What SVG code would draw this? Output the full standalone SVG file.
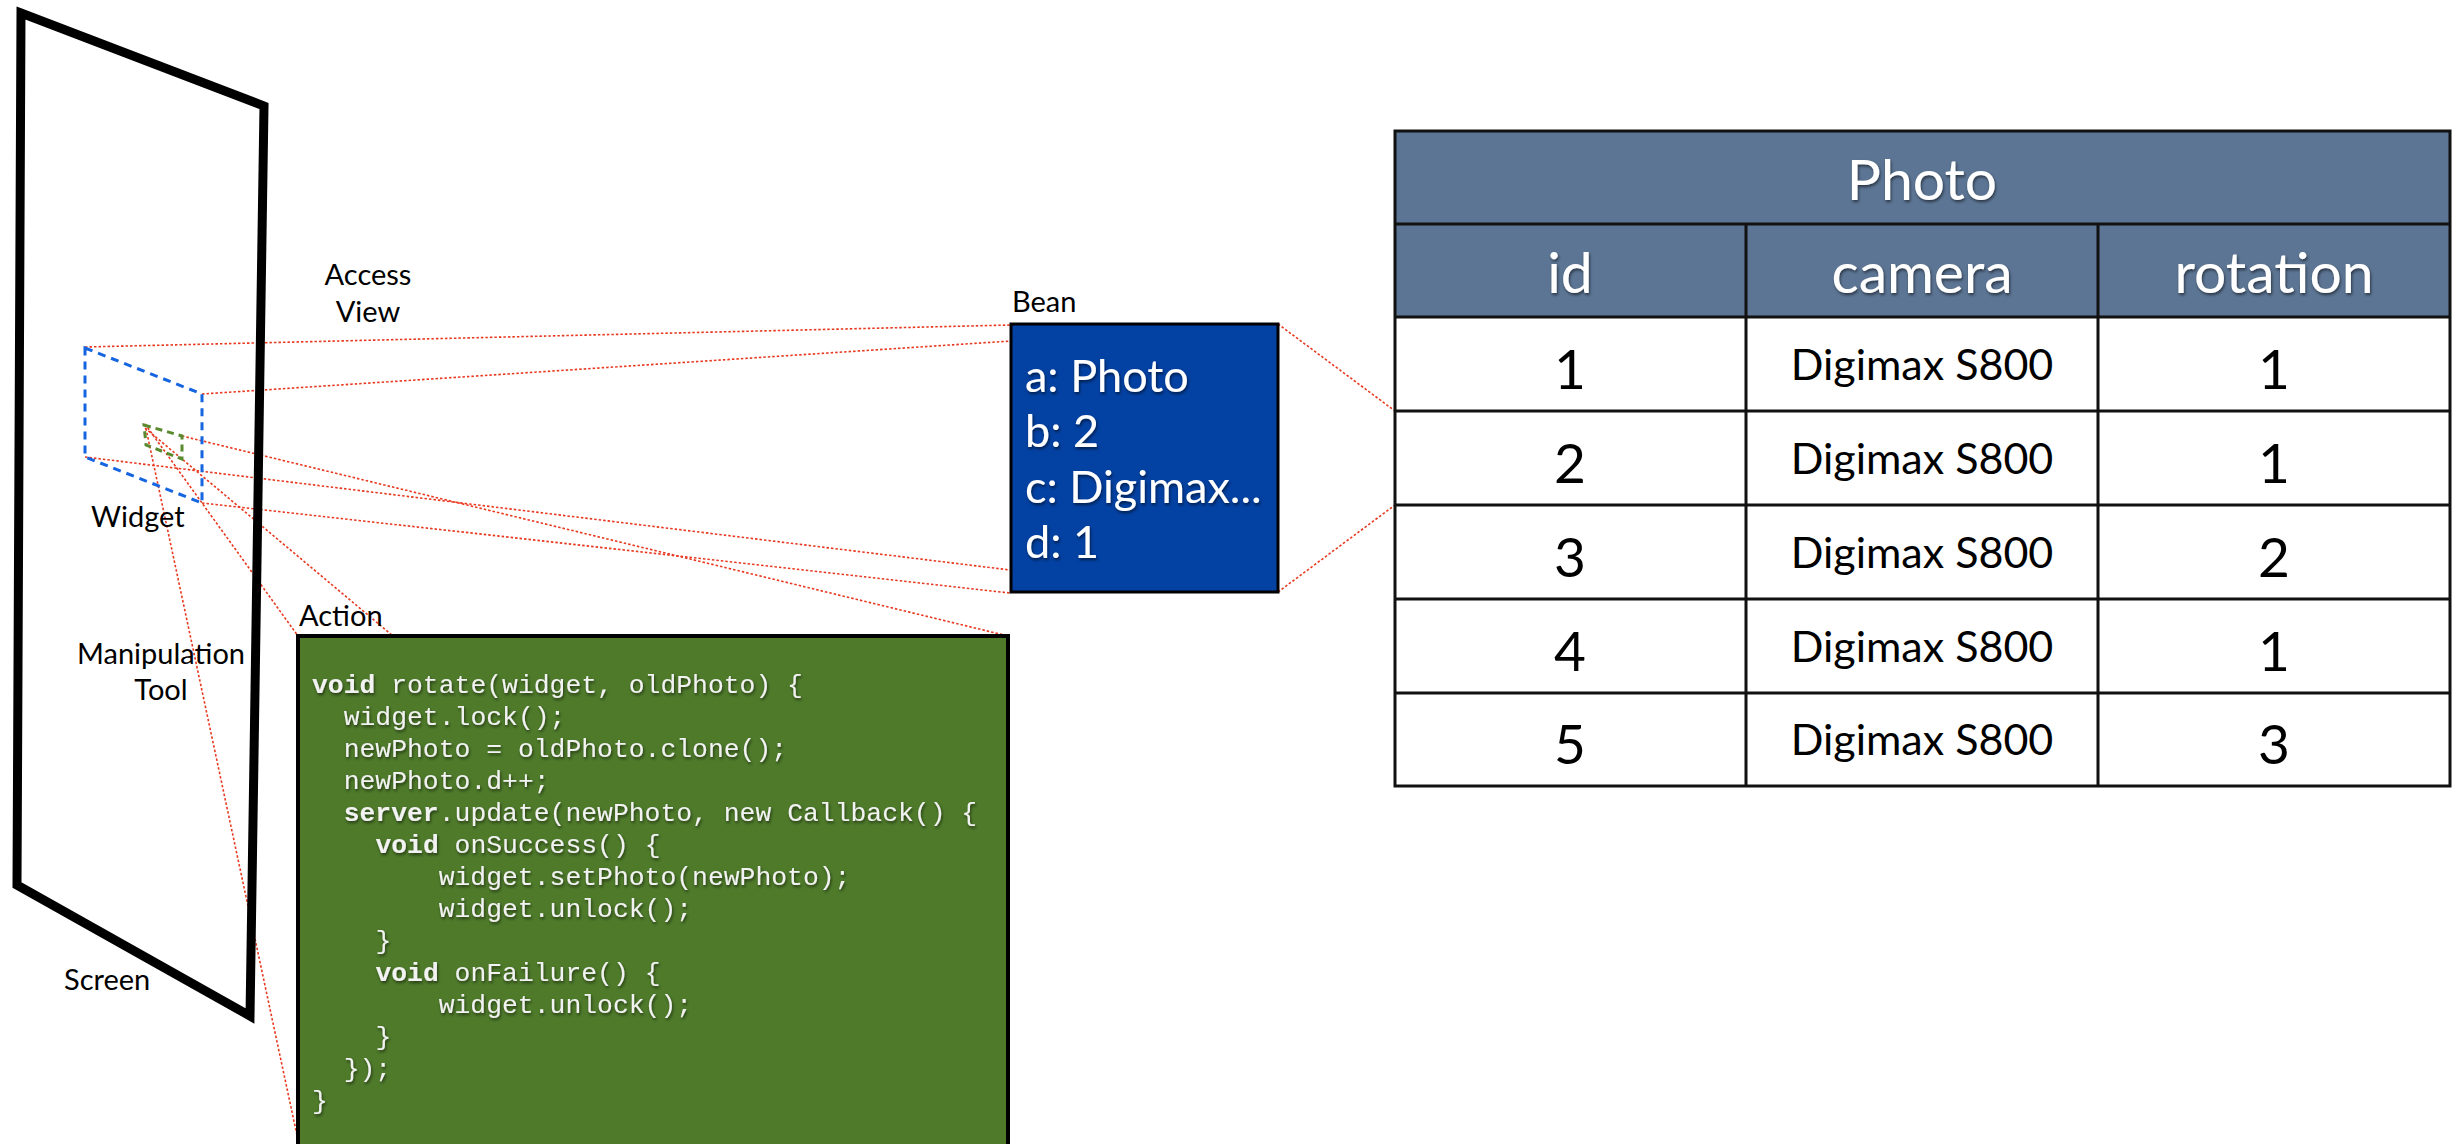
<svg xmlns="http://www.w3.org/2000/svg" width="2460" height="1144" viewBox="0 0 2460 1144">
<defs>
<filter id="sh" x="-10%" y="-10%" width="130%" height="140%">
<feDropShadow dx="1" dy="2" stdDeviation="1.5" flood-color="#000" flood-opacity="0.55"/>
</filter>
<style>
.lbl{font-family:Lato,"Open Sans","Liberation Sans",sans-serif;font-size:29px;fill:#000}
.ray{fill:none;stroke:#e8381f;stroke-width:1.6;stroke-dasharray:2.5 2}
.bean{font-family:Lato,"Open Sans","Liberation Sans",sans-serif;font-size:45px;fill:#fff}
.code{font-family:"Liberation Mono","DejaVu Sans Mono",monospace;font-size:26.4px;fill:#f2f2f2}
.code .k{font-weight:bold}
.hdr{font-family:Lato,"Open Sans","Liberation Sans",sans-serif;font-size:57px;fill:#fff;text-anchor:middle}
.cell{font-family:Lato,"Open Sans","Liberation Sans",sans-serif;font-size:43px;fill:#000;text-anchor:middle}
.num{font-family:Lato,"Open Sans","Liberation Sans",sans-serif;font-size:55px;fill:#000;text-anchor:middle}
.grid{stroke:#111;stroke-width:3;fill:none}
</style>
</defs>
<rect width="2460" height="1144" fill="#fff"/>

<g id="connectors">
<line class="ray" x1="85" y1="347" x2="1011" y2="325"/>
<line class="ray" x1="202" y1="394" x2="1011" y2="341"/>
<line class="ray" x1="85" y1="457" x2="1010" y2="570"/>
<line class="ray" x1="202" y1="503" x2="1010" y2="593"/>
<line class="ray" x1="182" y1="436" x2="1008" y2="636"/>
<line class="ray" x1="145" y1="424" x2="298" y2="636"/>
<line class="ray" x1="145" y1="424" x2="298" y2="1140"/>
<line class="ray" x1="145" y1="428" x2="393" y2="636"/>
<line class="ray" x1="1278" y1="324" x2="1395" y2="411"/>
<line class="ray" x1="1278" y1="592" x2="1395" y2="505"/>
</g>

<g id="screen">
<polygon points="21,13 264,106 250,1016 17,885" fill="none" stroke="#000" stroke-width="9" stroke-linejoin="miter"/>
<text class="lbl" x="64" y="990">Screen</text>
</g>

<g id="widget">
<polygon points="85,348 202,394 202,503 85,457" fill="none" stroke="#1565e0" stroke-width="3" stroke-dasharray="8 6"/>
<text class="lbl" x="91" y="527">Widget</text>
</g>

<g id="access-view">
<text class="lbl" x="368" y="285" text-anchor="middle">Access</text>
<text class="lbl" x="368" y="322" text-anchor="middle">View</text>
</g>

<g id="manipulation-tool">
<polygon points="144,425 182,436 182,459 146,445" fill="none" stroke="#5a8a2e" stroke-width="3" stroke-dasharray="7 5"/>
<text class="lbl" x="161" y="664" text-anchor="middle">Manipulation</text>
<text class="lbl" x="161" y="700" text-anchor="middle">Tool</text>
</g>

<g id="bean">
<text class="lbl" x="1012" y="312">Bean</text>
<rect x="1011" y="324" width="267" height="268" fill="#0341a2" stroke="#000" stroke-width="3"/>
<g class="bean" filter="url(#sh)">
<text x="1025" y="392">a: Photo</text>
<text x="1025" y="447">b: 2</text>
<text x="1025" y="503">c: Digimax...</text>
<text x="1025" y="558">d: 1</text>
</g>
</g>

<g id="action">
<text class="lbl" x="299" y="626">Action</text>
<rect x="298" y="636" width="710" height="520" fill="#4e7a2a" stroke="#000" stroke-width="4"/>
<g class="code" filter="url(#sh)">
<text x="312" y="693"><tspan class="k">void</tspan> rotate(widget, oldPhoto) {</text>
<text x="343.7" y="725">widget.lock();</text>
<text x="343.7" y="757">newPhoto = oldPhoto.clone();</text>
<text x="343.7" y="789">newPhoto.d++;</text>
<text x="343.7" y="821"><tspan class="k">server</tspan>.update(newPhoto, new Callback() {</text>
<text x="375.4" y="853"><tspan class="k">void</tspan> onSuccess() {</text>
<text x="438.7" y="885">widget.setPhoto(newPhoto);</text>
<text x="438.7" y="917">widget.unlock();</text>
<text x="375.4" y="949">}</text>
<text x="375.4" y="981"><tspan class="k">void</tspan> onFailure() {</text>
<text x="438.7" y="1013">widget.unlock();</text>
<text x="375.4" y="1045">}</text>
<text x="343.7" y="1077">});</text>
<text x="312" y="1109">}</text>
</g>
</g>

<g id="photo-table">
<rect x="1395" y="131" width="1055" height="186" fill="#5c7594"/>
<rect x="1395" y="317" width="1055" height="469" fill="#fff"/>
<rect x="1395" y="131" width="1055" height="655" class="grid"/>
<line class="grid" x1="1395" y1="224" x2="2450" y2="224"/>
<line class="grid" x1="1395" y1="317" x2="2450" y2="317"/>
<line class="grid" x1="1395" y1="411" x2="2450" y2="411"/>
<line class="grid" x1="1395" y1="505" x2="2450" y2="505"/>
<line class="grid" x1="1395" y1="599" x2="2450" y2="599"/>
<line class="grid" x1="1395" y1="693" x2="2450" y2="693"/>
<line class="grid" x1="1746" y1="224" x2="1746" y2="786"/>
<line class="grid" x1="2098" y1="224" x2="2098" y2="786"/>
<g filter="url(#sh)">
<text class="hdr" x="1922" y="200">Photo</text>
<text class="hdr" x="1570" y="293">id</text>
<text class="hdr" x="1922" y="293">camera</text>
<text class="hdr" x="2274" y="293">rotation</text>
</g>
<text class="num" x="1570" y="389">1</text>
<text class="cell" x="1922" y="380">Digimax S800</text>
<text class="num" x="2274" y="389">1</text>
<text class="num" x="1570" y="483">2</text>
<text class="cell" x="1922" y="474">Digimax S800</text>
<text class="num" x="2274" y="483">1</text>
<text class="num" x="1570" y="577">3</text>
<text class="cell" x="1922" y="568">Digimax S800</text>
<text class="num" x="2274" y="577">2</text>
<text class="num" x="1570" y="671">4</text>
<text class="cell" x="1922" y="662">Digimax S800</text>
<text class="num" x="2274" y="671">1</text>
<text class="num" x="1570" y="764">5</text>
<text class="cell" x="1922" y="755">Digimax S800</text>
<text class="num" x="2274" y="764">3</text>
</g>
</svg>
